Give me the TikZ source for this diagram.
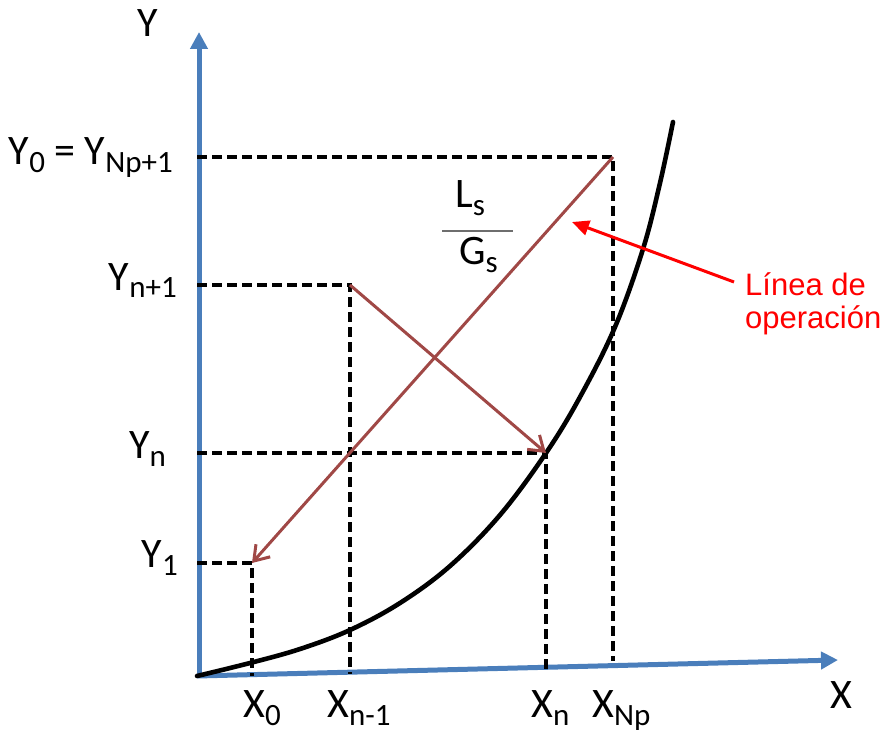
\documentclass[tikz,border=0pt]{standalone}
\usepackage{fontspec}
\setmainfont{Carlito}
\newfontfamily\arialfont{Liberation Sans}
\usetikzlibrary{arrows.meta}
\definecolor{axisblue}{RGB}{74,126,187}
\definecolor{opbrown}{RGB}{160,72,70}
\definecolor{bargray}{RGB}{110,110,110}
\newcommand{\sbs}[1]{\raisebox{-8pt}{\fontsize{31}{31}\selectfont #1}}
\begin{document}
\begin{tikzpicture}[x=1pt,y=-1pt,
  axis/.style={draw=axisblue,line width=5pt,-{Triangle[length=17pt,width=17pt]}},
  guide/.style={draw=black,line width=3.2pt,dash pattern=on 10pt off 5pt},
  curvestyle/.style={draw=black,line width=4.6pt,line cap=round},
  opline/.style={draw=opbrown,line width=3pt,-{Straight Barb[length=14pt,width=19pt]}},
  callout/.style={draw=red,line width=3pt,-{Triangle[length=17pt,width=15pt]}},
  lab/.style={font=\fontsize{42}{42}\selectfont,inner sep=0pt,text=black},
  note/.style={font=\arialfont\fontsize{31}{31}\selectfont,inner sep=0pt,text=red}]
\useasboundingbox (0,0) rectangle (889,738);
% coordinates
\coordinate (O) at (199,676);
\coordinate (Ytip) at (199,32);
\coordinate (Xtip) at (838,660);
\coordinate (A0) at (613,157);
\coordinate (A1) at (252,563);
\coordinate (Bn1) at (350,285);
\coordinate (Bn) at (546,453);
\coordinate (Y0l) at (197,157);
\coordinate (Yn1l) at (197,285);
\coordinate (Ynl) at (197,453);
\coordinate (Y1l) at (197,563);
\coordinate (XNpb) at (613,661);
\coordinate (Xnb) at (546,670);
\coordinate (Xn1b) at (350,674);
\coordinate (X0b) at (252,676);
\coordinate (barL) at (442,231);
\coordinate (barR) at (513,231);
\coordinate (cTail) at (734,282);
\coordinate (cTip) at (572,222);
% axes
\draw[axis] (O) -- (Ytip);
\draw[axis] ([xshift=-2pt]O) -- (Xtip);
% guides
\draw[guide] (Y0l) -- (A0) -- (XNpb);
\draw[guide] (Yn1l) -- (Bn1) -- (Xn1b);
\draw[guide] (Ynl) -- (Bn) -- (Xnb);
\draw[guide] (Y1l) -- (A1) -- (X0b);
% equilibrium curve
\draw[curvestyle] plot[smooth,tension=0.6] coordinates {(197,676) (250,663) (300,649) (350,630) (400,603) (450,566) (500,515) (546,453) (580,397) (615,327) (643,249) (660,183) (673,122)};
% operating lines
\draw[opline] (A0) -- (A1);
\draw[opline] (Bn1) -- (Bn);
% callout
\draw[callout] (cTail) -- (cTip);
\draw[draw=bargray,line width=2pt] (barL) -- (barR);
% labels
\node[lab,anchor=base] (ly) at (148,37) {Y};
\node[lab,anchor=base east] (ly0) at (173,165) {Y\sbs{0} = Y\sbs{Np+1}};
\node[lab,anchor=base east] (lyn1) at (177,290) {Y\sbs{n+1}};
\node[lab,anchor=base east] (lyn) at (166,458) {Y\sbs{n}};
\node[lab,anchor=base east] (ly1) at (178,567) {Y\sbs{1}};
\node[lab,anchor=base west] (lx0) at (243,717) {X\sbs{0}};
\node[lab,anchor=base west] (lxn1) at (327,717) {X\sbs{n-1}};
\node[lab,anchor=base west] (lxn) at (531,717) {X\sbs{n}};
\node[lab,anchor=base west] (lxnp) at (592,717) {X\sbs{Np}};
\node[lab,anchor=base] (lx) at (841,708) {X};
\node[lab,anchor=base west] (lls) at (455,208) {L\sbs{s}};
\node[lab,anchor=base west] (lgs) at (459,265) {G\sbs{s}};
\node[note,anchor=base west] (n1) at (745,295) {Línea de};
\node[note,anchor=base west] (n2) at (745,328) {operación};
\end{tikzpicture}
\end{document}
